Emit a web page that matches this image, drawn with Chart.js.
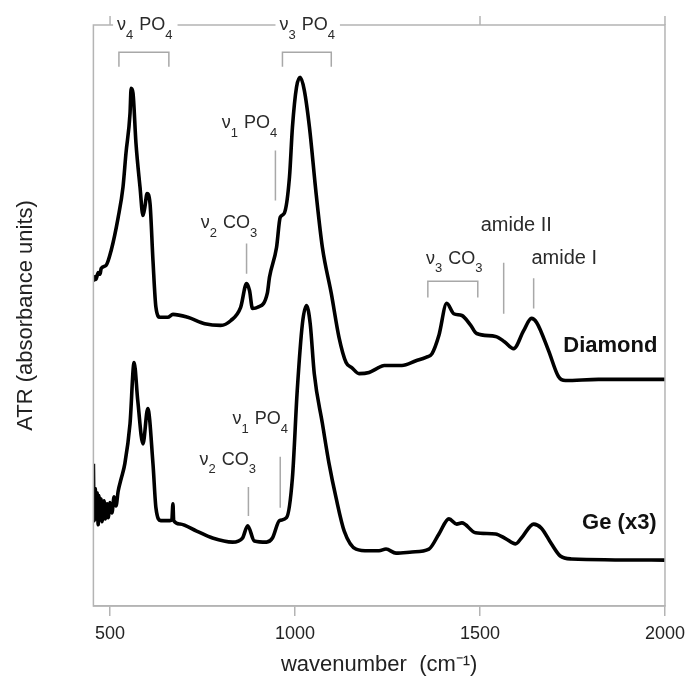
<!DOCTYPE html>
<html>
<head>
<meta charset="utf-8">
<script src="https://cdn.jsdelivr.net/npm/chart.js@4.4.0/dist/chart.umd.min.js"></script>
<style>
  html, body { margin: 0; padding: 0; background: #fff; }
  #wrap { width: 692px; height: 680px; }
</style>
</head>
<body>
<div id="wrap"><canvas id="chart" width="692" height="680"></canvas></div>
<script>
// ATR spectra: diamond crystal vs germanium crystal (Ge scaled x3)

const xTicks = [500, 1000, 1500, 2000];

// Diamond spectrum (upper trace)
const diamondWn = [455, 460, 462, 468, 473, 476, 489, 503, 522, 535,
    543, 554, 557, 562, 570, 581, 589, 594, 600, 608,
    616, 624, 635, 656, 670, 710, 756, 799, 826, 853,
    869, 877, 885, 899, 925, 931, 950, 960, 971, 985,
    993, 1004, 1014, 1025, 1039, 1057, 1074, 1098, 1119, 1138,
    1154, 1173, 1200, 1222, 1241, 1289, 1327, 1354, 1370, 1389,
    1410, 1429, 1451, 1475, 1491, 1542, 1566, 1591, 1618, 1639,
    1653, 1685, 1712, 1731, 1820, 2000];
const diamondAbs = [0.559, 0.567, 0.562, 0.574, 0.571, 0.581, 0.586, 0.612, 0.669, 0.721,
    0.779, 0.848, 0.891, 0.883, 0.797, 0.721, 0.672, 0.686, 0.710, 0.693,
    0.595, 0.514, 0.497, 0.497, 0.502, 0.497, 0.486, 0.483, 0.491, 0.514,
    0.555, 0.543, 0.512, 0.514, 0.538, 0.566, 0.617, 0.669, 0.676, 0.738,
    0.824, 0.893, 0.910, 0.888, 0.824, 0.710, 0.617, 0.538, 0.462, 0.419,
    0.410, 0.400, 0.402, 0.409, 0.414, 0.414, 0.422, 0.428, 0.434, 0.466,
    0.521, 0.503, 0.500, 0.483, 0.469, 0.464, 0.455, 0.443, 0.474, 0.495,
    0.488, 0.440, 0.395, 0.388, 0.390, 0.390];

// Germanium spectrum (lower trace, x3)
const geWn = [455, 457, 460, 462, 465, 468, 470, 473, 476, 478,
    484, 487, 492, 495, 500, 505, 511, 516, 522, 530,
    540, 554, 565, 575, 589, 602, 616, 624, 637, 662,
    667, 670, 672, 689, 734, 777, 831, 858, 872, 890,
    923, 939, 958, 977, 993, 1006, 1020, 1031, 1041, 1052,
    1074, 1092, 1111, 1133, 1165, 1200, 1227, 1246, 1273, 1316,
    1362, 1389, 1416, 1437, 1451, 1488, 1542, 1569, 1596, 1612,
    1645, 1666, 1693, 1717, 1747, 2000];
const geAbs = [0.245, 0.147, 0.202, 0.150, 0.195, 0.140, 0.190, 0.148, 0.184, 0.145,
    0.181, 0.150, 0.176, 0.152, 0.178, 0.160, 0.188, 0.172, 0.198, 0.219,
    0.245, 0.314, 0.419, 0.353, 0.279, 0.340, 0.245, 0.169, 0.147, 0.147,
    0.148, 0.176, 0.147, 0.141, 0.129, 0.117, 0.110, 0.117, 0.138, 0.112,
    0.110, 0.117, 0.147, 0.152, 0.221, 0.371, 0.486, 0.517, 0.486, 0.400,
    0.314, 0.245, 0.186, 0.129, 0.098, 0.095, 0.095, 0.098, 0.091, 0.093,
    0.098, 0.124, 0.150, 0.141, 0.143, 0.126, 0.124, 0.116, 0.107, 0.117,
    0.141, 0.134, 0.107, 0.086, 0.081, 0.079];

const FONT = '"Liberation Sans", Arial, Helvetica, sans-serif';
const FRAME = '#b4b4b4';
const MARK = '#a8a8a8';

// band assignments, in data coordinates (wavenumber, absorbance)
const brackets = [
    { from: 524, to: 659, y: 0.953, leg: 0.928 },   // v4 PO4
    { from: 966, to: 1098, y: 0.953, leg: 0.928 },  // v3 PO4
    { from: 1359, to: 1494, y: 0.559, leg: 0.531 }  // v3 CO3
];
const markers = [
    { x: 947, y1: 0.784, y2: 0.698 },   // v1 PO4 (diamond)
    { x: 869, y1: 0.624, y2: 0.572 },   // v2 CO3 (diamond)
    { x: 1564, y1: 0.591, y2: 0.503 },  // amide II
    { x: 1645, y1: 0.564, y2: 0.512 },  // amide I
    { x: 960, y1: 0.257, y2: 0.169 },   // v1 PO4 (Ge)
    { x: 874, y1: 0.205, y2: 0.155 }    // v2 CO3 (Ge)
];
const labels = [
    { x: 519, y: 1.0, parts: [['ν'], ['4', 1], [' PO'], ['4', 1]], bg: true },
    { x: 958, y: 1.0, parts: [['ν'], ['3', 1], [' PO'], ['4', 1]], bg: true },
    { x: 802, y: 0.831, parts: [['ν'], ['1', 1], [' PO'], ['4', 1]] },
    { x: 745, y: 0.659, parts: [['ν'], ['2', 1], [' CO'], ['3', 1]] },
    { x: 1354, y: 0.598, parts: [['ν'], ['3', 1], [' CO'], ['3', 1]] },
    { x: 1502, y: 0.655, parts: [['amide II']], size: 20 },
    { x: 1639, y: 0.598, parts: [['amide I']], size: 20 },
    { x: 831, y: 0.321, parts: [['ν'], ['1', 1], [' PO'], ['4', 1]] },
    { x: 742, y: 0.252, parts: [['ν'], ['2', 1], [' CO'], ['3', 1]] },
    { x: 1725, y: 0.448, parts: [['Diamond']], bold: true, size: 22 },
    { x: 1776, y: 0.143, parts: [['Ge (x3)']], bold: true, size: 22 }
];

function drawRich(ctx, x, y, item) {
    const size = item.size || 18;
    const weight = item.bold ? 'bold ' : '';
    let cx = x;
    const runs = item.parts.map(([text, sub]) => {
        const fs = sub ? 13 : size;
        ctx.font = weight + fs + 'px ' + FONT;
        const w = ctx.measureText(text).width;
        const run = { text, sub, fs, x: cx };
        cx += w + (sub ? 1 : 0);
        return run;
    });
    if (item.bg) {
        ctx.fillStyle = '#fff';
        ctx.fillRect(x - 4, y - 12, cx - x + 8, 30);
    }
    ctx.fillStyle = item.bold ? '#111' : '#2a2a2a';
    ctx.textBaseline = 'middle';
    ctx.textAlign = 'left';
    runs.forEach(r => {
        ctx.font = weight + r.fs + 'px ' + FONT;
        ctx.fillText(r.text, r.x, r.sub ? y + 10 : y);
    });
}

const annotationPlugin = {
    id: 'bands',
    afterDraw(chart) {
        const { ctx, chartArea: a, scales: { x, y } } = chart;
        ctx.save();
        // frame + upward ticks on the top edge
        ctx.strokeStyle = FRAME;
        ctx.lineWidth = 1.5;
        ctx.strokeRect(a.left, a.top, a.right - a.left, a.bottom - a.top);
        ctx.beginPath();
        xTicks.forEach(v => {
            const px = x.getPixelForValue(v);
            ctx.moveTo(px, a.top);
            ctx.lineTo(px, a.top - 9);
        });
        ctx.stroke();

        ctx.strokeStyle = MARK;
        ctx.lineWidth = 1.5;
        ctx.beginPath();
        brackets.forEach(b => {
            const x1 = x.getPixelForValue(b.from), x2 = x.getPixelForValue(b.to);
            const y1 = y.getPixelForValue(b.y), y2 = y.getPixelForValue(b.leg);
            ctx.moveTo(x1, y2);
            ctx.lineTo(x1, y1);
            ctx.lineTo(x2, y1);
            ctx.lineTo(x2, y2);
        });
        markers.forEach(m => {
            const px = x.getPixelForValue(m.x);
            ctx.moveTo(px, y.getPixelForValue(m.y1));
            ctx.lineTo(px, y.getPixelForValue(m.y2));
        });
        ctx.stroke();

        labels.forEach(l => drawRich(ctx, x.getPixelForValue(l.x), y.getPixelForValue(l.y), l));
        ctx.restore();
    }
};

function toPoints(xs, ys) {
    return xs.map((v, i) => ({ x: v, y: ys[i] }));
}

const lineStyle = {
    borderColor: '#000',
    borderWidth: 3.6,
    pointRadius: 0,
    fill: false,
    cubicInterpolationMode: 'monotone'
};

new Chart(document.getElementById('chart'), {
    type: 'line',
    data: {
        datasets: [
            Object.assign({ label: 'Diamond', data: toPoints(diamondWn, diamondAbs) }, lineStyle),
            Object.assign({ label: 'Ge (x3)', data: toPoints(geWn, geAbs) }, lineStyle)
        ]
    },
    options: {
        responsive: false,
        devicePixelRatio: 1,
        animation: false,
        layout: { padding: { left: 13, right: 23, top: 25, bottom: 2 } },
        plugins: {
            legend: { display: false },
            tooltip: { enabled: false }
        },
        scales: {
            x: {
                type: 'linear',
                min: 455,
                max: 2000,
                afterBuildTicks: scale => { scale.ticks = xTicks.map(v => ({ value: v })); },
                border: { display: true, color: FRAME, width: 1.5 },
                grid: { drawOnChartArea: false, drawTicks: true, tickLength: 10, color: FRAME, lineWidth: 1.5 },
                ticks: {
                    font: { size: 18, family: FONT },
                    color: '#222',
                    padding: 7,
                    maxRotation: 0,
                    callback: v => String(v)
                },
                title: {
                    display: true,
                    text: 'wavenumber  (cm⁻¹)',
                    font: { size: 22, family: FONT },
                    color: '#222',
                    padding: { top: 0, bottom: 0 }
                }
            },
            y: {
                min: 0,
                max: 1,
                ticks: { display: false },
                grid: { display: false },
                border: { display: false },
                title: {
                    display: true,
                    text: 'ATR (absorbance units)',
                    font: { size: 22, family: FONT },
                    color: '#222',
                    padding: { top: 0, bottom: 46 }
                }
            }
        }
    },
    plugins: [annotationPlugin]
});
</script>
</body>
</html>
